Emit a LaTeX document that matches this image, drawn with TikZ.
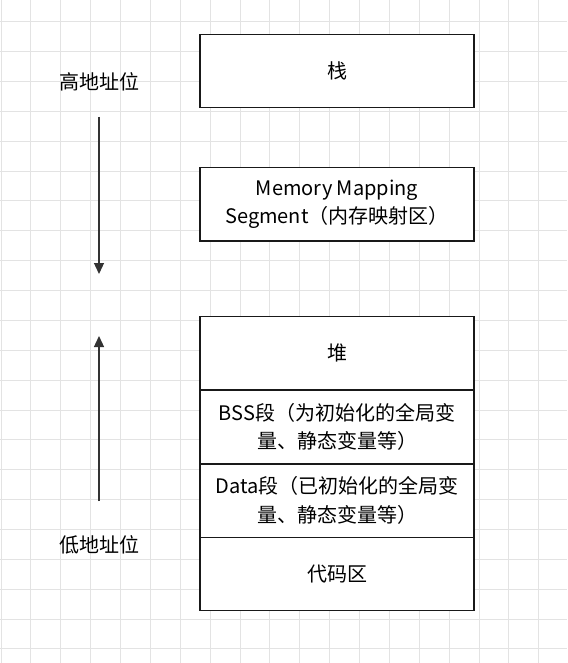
\documentclass[tikz,border=0pt]{standalone}
\usepackage{fontspec}
\setmainfont{Noto Sans CJK SC}
\usetikzlibrary{arrows.meta}
\begin{document}
\begin{tikzpicture}[x=1pt,y=-1pt,
  gridline/.style={draw=black!11,line width=1pt},
  memblock/.style={draw=black!90,line width=1.3pt,fill=white,minimum width=274pt,minimum height=73.4pt,inner sep=0pt,align=center,font=\fontsize{20}{28.6}\selectfont},
  sidelabel/.style={inner sep=0pt,font=\fontsize{20}{24}\selectfont},
  dirarrow/.style={draw=black!80,line width=1.3pt,-{Triangle[length=11pt,width=10pt]}}]
\useasboundingbox (0,0) rectangle (567,663);
\fill[white] (0,0) rectangle (567,663);
\foreach \k in {0,...,18} \draw[gridline] ({1.1+29.87*\k},0) -- ({1.1+29.87*\k},663);
\foreach \k in {0,...,21} \draw[gridline] (0,{21.7+29.87*\k}) -- (567,{21.7+29.87*\k});
\node[memblock] (stack) at (337,71) {栈};
\node[memblock] (mms) at (337,204.3) {Memory Mapping\\Segment（内存映射区）};
\node[memblock] (heap) at (337,353.4) {堆};
\node[memblock] (bss) at (337,427) {BSS段（为初始化的全局变\\量、静态变量等）};
\node[memblock] (data) at (337,500.6) {Data段（已初始化的全局变\\量、静态变量等）};
\node[memblock] (code) at (337,574.1) {代码区};
\node[sidelabel] (hi) at (99,82) {高地址位};
\node[sidelabel] (lo) at (99,545) {低地址位};
\coordinate (d1) at (99,117);
\coordinate (d2) at (99,274);
\coordinate (u1) at (99,501);
\coordinate (u2) at (99,336);
\draw[dirarrow] (d1) -- (d2);
\draw[dirarrow] (u1) -- (u2);
\end{tikzpicture}
\end{document}
